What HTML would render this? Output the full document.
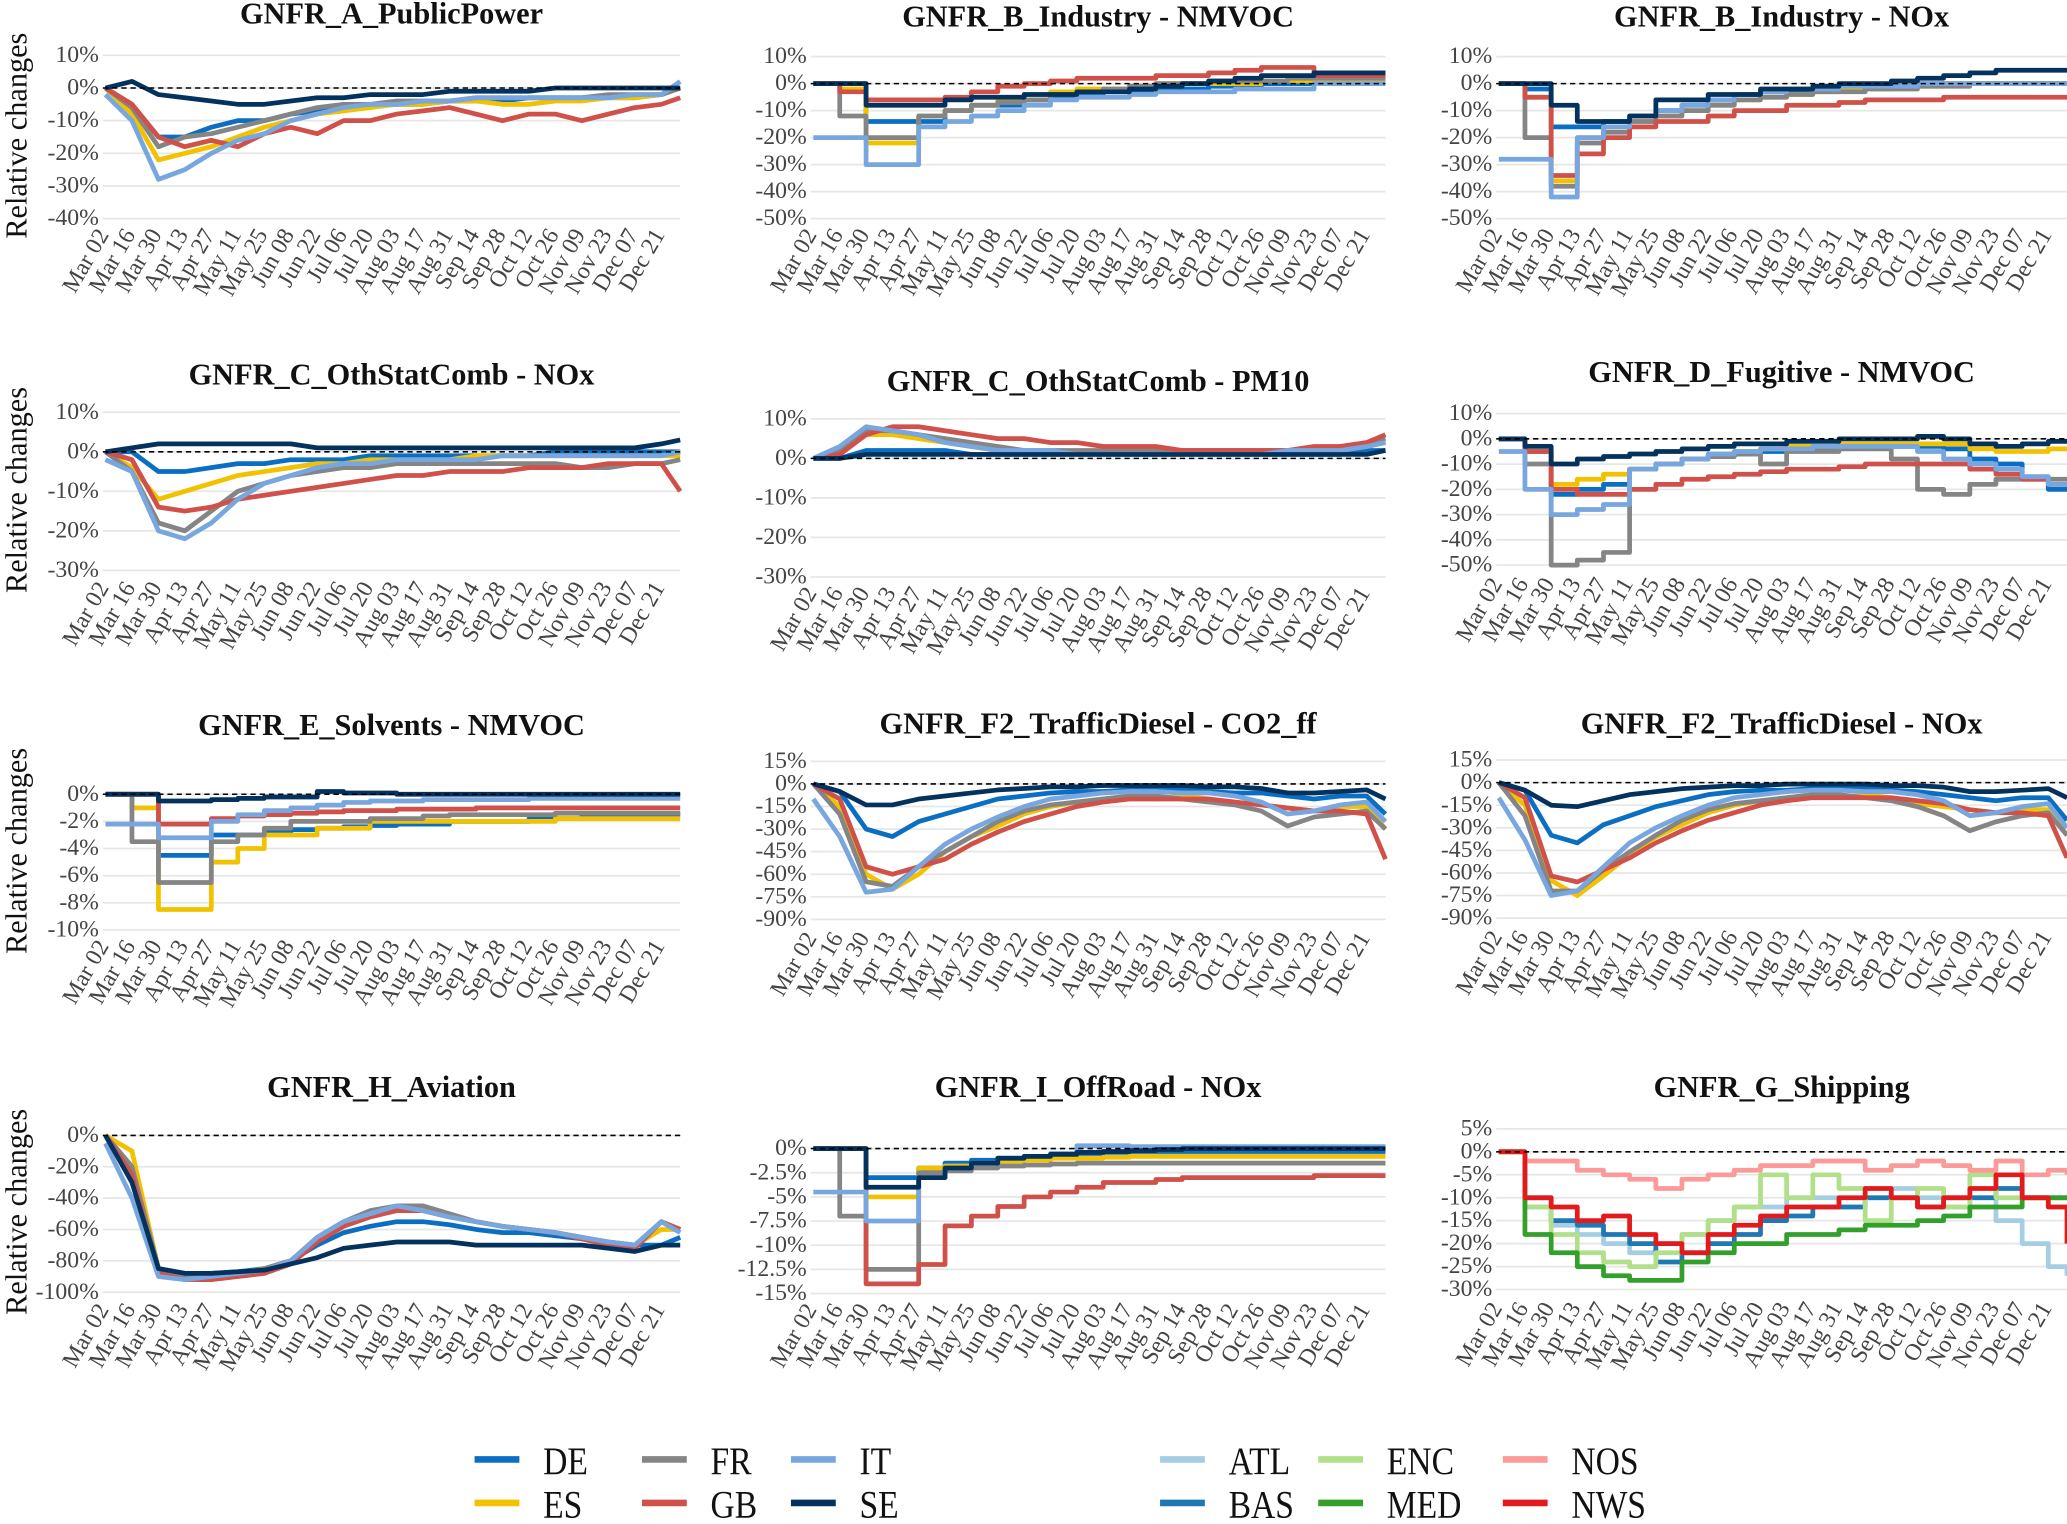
<!DOCTYPE html>
<html><head><meta charset="utf-8"><style>
html,body{margin:0;padding:0;background:#fff}
svg{display:block}
text{font-family:"Liberation Serif","DejaVu Serif",serif}
</style></head><body>
<svg id="chart" xmlns="http://www.w3.org/2000/svg" width="2067" height="1524" viewBox="0 0 1568 1157" preserveAspectRatio="none"></svg>
<script>
const tickLabels=["Mar 02","Mar 16","Mar 30","Apr 13","Apr 27","May 11","May 25","Jun 08","Jun 22","Jul 06","Jul 20","Aug 03","Aug 17","Aug 31","Sep 14","Sep 28","Oct 12","Oct 26","Nov 09","Nov 23","Dec 07","Dec 21"];
const days=[0,14,28,42,56,70,84,98,112,126,140,154,168,182,196,210,224,238,252,266,280,294,304];
const countries=["DE","ES","FR","GB","IT","SE"];
const seas=["ATL","BAS","ENC","MED","NOS","NWS"];
const colors={DE:"#0a6fc2",ES:"#f2c200",FR:"#858585",GB:"#d0504a",IT:"#78a6df",SE:"#04325e",ATL:"#a6cee3",BAS:"#1f78b4",ENC:"#b2df8a",MED:"#33a02c",NOS:"#fb9a99",NWS:"#e31a1c"};

const A_DE=[0,-5,-15,-15,-12,-10,-10,-8,-7,-6,-5,-5,-5,-4,-4,-4,-3,-3,-3,-3,-3,-2,0];
const A_ES=[0,-8,-22,-20,-18,-15,-12,-10,-8,-7,-6,-5,-5,-4,-4,-5,-5,-4,-4,-3,-3,-2,0];
const A_FR=[0,-6,-18,-15,-14,-12,-10,-8,-6,-5,-5,-4,-4,-4,-3,-3,-3,-3,-3,-2,-2,-2,0];
const A_GB=[0,-5,-15,-18,-16,-18,-14,-12,-14,-10,-10,-8,-7,-6,-8,-10,-8,-8,-10,-8,-6,-5,-3];
const A_IT=[-2,-10,-28,-25,-20,-16,-14,-10,-8,-6,-5,-5,-4,-4,-3,-3,-3,-3,-3,-3,-2,-2,2];
const A_SE=[0,2,-2,-3,-4,-5,-5,-4,-3,-3,-2,-2,-2,-1,-1,-1,-1,0,0,0,0,0,0];

const BV_DE=[0,0,-14,-14,-14,-10,-8,-8,-6,-5,-4,-3,-3,-2,-2,-1,-1,0,0,1,1,1,1];
const BV_ES=[0,-2,-22,-22,-12,-10,-8,-6,-4,-3,-2,-2,-1,0,0,0,0,1,1,1,1,1,1];
const BV_FR=[0,-12,-20,-20,-12,-10,-8,-7,-6,-4,-3,-2,-1,0,0,1,1,1,2,2,2,2,2];
const BV_GB=[0,-3,-6,-6,-6,-5,-3,-1,0,1,2,2,2,3,3,4,5,6,6,3,3,3,3];
const BV_IT=[-20,-20,-30,-30,-16,-14,-12,-10,-8,-6,-5,-5,-4,-3,-3,-3,-2,-2,-2,0,0,0,0];
const BV_SE=[0,0,-8,-8,-8,-6,-5,-5,-4,-4,-3,-3,-2,-1,0,1,2,3,3,4,4,4,4];

const BN_DE=[0,-2,-16,-16,-14,-12,-10,-8,-6,-4,-3,-3,-2,-2,-1,-1,0,0,0,0,0,0,0];
const BN_ES=[0,-5,-36,-20,-16,-14,-12,-10,-8,-6,-5,-4,-3,-2,-2,-1,-1,0,0,0,0,0,0];
const BN_FR=[0,-20,-38,-22,-18,-14,-12,-10,-8,-6,-5,-4,-3,-3,-2,-2,-1,-1,0,0,0,0,0];
const BN_GB=[0,-5,-34,-26,-20,-16,-14,-14,-12,-10,-10,-8,-8,-7,-6,-6,-6,-5,-5,-5,-5,-5,-5];
const BN_IT=[-28,-28,-42,-20,-16,-12,-10,-8,-6,-4,-3,-2,-2,-1,-1,-1,0,0,0,0,0,0,0];
const BN_SE=[0,0,-8,-14,-14,-12,-6,-6,-4,-4,-2,-2,-1,0,0,1,2,3,4,5,5,5,5];

const CN_DE=[0,0,-5,-5,-4,-3,-3,-2,-2,-2,-1,-1,-1,-1,-1,-1,-1,0,0,0,0,0,0];
const CN_ES=[0,-4,-12,-10,-8,-6,-5,-4,-3,-3,-2,-2,-2,-2,-1,-1,-1,-1,-1,-1,-1,-1,-1];
const CN_FR=[0,-5,-18,-20,-15,-10,-8,-6,-5,-4,-4,-3,-3,-3,-3,-3,-3,-3,-4,-4,-3,-3,-2];
const CN_GB=[0,-2,-14,-15,-14,-12,-11,-10,-9,-8,-7,-6,-6,-5,-5,-5,-4,-4,-4,-3,-3,-3,-10];
const CN_IT=[-2,-5,-20,-22,-18,-12,-8,-6,-4,-3,-3,-2,-2,-2,-2,-1,-1,-1,-1,-1,-1,-1,0];
const CN_SE=[0,1,2,2,2,2,2,2,1,1,1,1,1,1,1,1,1,1,1,1,1,2,3];

const CP_DE=[0,0,2,2,2,2,1,1,1,1,1,1,1,1,1,1,1,1,1,1,1,2,2];
const CP_ES=[0,2,6,6,5,4,3,2,2,1,1,1,1,1,1,1,1,1,2,2,2,3,4];
const CP_FR=[0,2,7,7,6,5,4,3,2,2,2,2,2,2,2,2,2,2,2,2,3,4,5];
const CP_GB=[0,1,6,8,8,7,6,5,5,4,4,3,3,3,2,2,2,2,2,3,3,4,6];
const CP_IT=[0,3,8,7,6,4,3,2,2,2,1,1,1,1,1,1,1,1,2,2,2,3,4];
const CP_SE=[0,0,1,1,1,1,1,1,1,1,1,1,1,1,1,1,1,1,1,1,1,1,2];

const D_DE=[0,-5,-22,-20,-18,-12,-10,-8,-7,-6,-5,-4,-4,-3,-3,-3,-3,-4,-8,-10,-15,-20,-20];
const D_ES=[0,-5,-18,-16,-14,-12,-10,-8,-6,-5,-4,-3,-3,-2,-2,-2,-2,-2,-4,-5,-5,-4,-4];
const D_FR=[0,-10,-50,-48,-45,-12,-10,-8,-7,-6,-10,-5,-5,-4,-4,-8,-20,-22,-18,-16,-16,-16,-16];
const D_GB=[0,-5,-20,-22,-22,-20,-18,-16,-15,-14,-13,-12,-12,-11,-10,-10,-10,-10,-12,-14,-16,-18,-18];
const D_IT=[-5,-20,-30,-28,-26,-12,-10,-8,-6,-5,-4,-4,-3,-3,-3,-3,-5,-8,-10,-12,-15,-18,-18];
const D_SE=[0,-3,-10,-8,-7,-6,-5,-4,-3,-2,-2,-1,-1,0,0,0,1,0,-2,-3,-2,-1,-1];

const E_DE=[0,0,-4.5,-4.5,-3,-3,-2.8,-2.6,-2.5,-2.4,-2.3,-2.2,-2.2,-2,-2,-2,-1.8,-1.8,-1.6,-1.6,-1.5,-1.5,-1.5];
const E_ES=[0,-1,-8.5,-8.5,-5,-4,-3,-3,-2.5,-2.5,-2,-2,-2,-2,-2,-2,-2,-1.8,-1.8,-1.8,-1.8,-1.8,-1.8];
const E_FR=[0,-3.5,-6.5,-6.5,-3.5,-3,-2.5,-2,-2,-2,-1.8,-1.8,-1.6,-1.5,-1.5,-1.5,-1.5,-1.4,-1.4,-1.4,-1.4,-1.4,-1.4];
const E_GB=[0,0,-2.2,-2.2,-1.8,-1.6,-1.5,-1.4,-1.3,-1.2,-1.2,-1.1,-1.1,-1.1,-1,-1,-1,-1,-1,-1,-1,-1,-1];
const E_IT=[-2.2,-2.2,-3.2,-3.2,-2,-1.5,-1.2,-1,-0.8,-0.6,-0.5,-0.5,-0.4,-0.4,-0.4,-0.4,-0.3,-0.3,-0.3,-0.3,-0.3,-0.3,-0.3];
const E_SE=[0,0,-0.5,-0.5,-0.4,-0.3,-0.2,-0.2,0.2,0.1,0.1,0,0,0,0,0,0,0,0,0,0,0,0];

const FC_DE=[0,-5,-30,-35,-25,-20,-15,-10,-8,-6,-5,-5,-4,-4,-4,-5,-6,-6,-8,-10,-8,-8,-20];
const FC_ES=[0,-15,-60,-70,-60,-45,-35,-28,-20,-15,-12,-10,-8,-10,-8,-10,-12,-14,-16,-18,-15,-15,-30];
const FC_FR=[0,-20,-65,-68,-55,-45,-35,-25,-18,-14,-12,-10,-8,-8,-10,-12,-14,-18,-28,-22,-20,-18,-30];
const FC_GB=[0,-10,-55,-60,-55,-50,-40,-32,-25,-20,-15,-12,-10,-10,-10,-10,-12,-14,-16,-18,-18,-20,-50];
const FC_IT=[-10,-35,-72,-70,-55,-40,-30,-22,-15,-10,-8,-6,-5,-5,-6,-6,-8,-12,-20,-18,-14,-12,-25];
const FC_SE=[0,-5,-14,-14,-10,-8,-6,-4,-3,-2,-2,-1,-1,-1,-1,-2,-2,-3,-6,-6,-5,-4,-10];

const FN_DE=[0,-5,-35,-40,-28,-22,-16,-12,-8,-6,-5,-5,-4,-4,-4,-5,-6,-8,-10,-12,-10,-10,-25];
const FN_ES=[0,-15,-65,-75,-62,-48,-36,-28,-20,-15,-12,-10,-8,-10,-8,-10,-14,-16,-18,-20,-18,-18,-35];
const FN_FR=[0,-22,-72,-72,-58,-46,-35,-25,-18,-14,-12,-10,-8,-8,-10,-12,-16,-22,-32,-26,-22,-20,-35];
const FN_GB=[0,-10,-62,-66,-58,-50,-40,-32,-25,-20,-15,-12,-10,-10,-10,-10,-12,-14,-18,-20,-20,-22,-50];
const FN_IT=[-10,-38,-75,-72,-56,-40,-30,-22,-15,-10,-8,-6,-5,-5,-6,-6,-8,-12,-22,-20,-16,-14,-30];
const FN_SE=[0,-5,-15,-16,-12,-8,-6,-4,-3,-2,-2,-1,-1,-1,-1,-2,-2,-3,-6,-6,-5,-4,-10];

const H_DE=[0,-20,-85,-88,-88,-87,-85,-80,-70,-62,-58,-55,-55,-57,-60,-62,-62,-64,-66,-68,-70,-70,-65];
const H_ES=[0,-10,-85,-90,-90,-88,-85,-80,-65,-55,-50,-45,-48,-52,-55,-58,-60,-62,-65,-68,-70,-60,-60];
const H_FR=[0,-20,-85,-90,-90,-88,-85,-80,-65,-55,-48,-45,-45,-50,-55,-58,-60,-62,-65,-68,-70,-55,-60];
const H_GB=[0,-25,-88,-92,-92,-90,-88,-82,-68,-58,-52,-48,-48,-52,-55,-58,-60,-62,-66,-70,-72,-55,-60];
const H_IT=[-5,-40,-90,-92,-90,-88,-86,-80,-65,-55,-50,-45,-48,-52,-55,-58,-60,-62,-65,-68,-70,-55,-62];
const H_SE=[0,-30,-85,-88,-88,-87,-86,-82,-78,-72,-70,-68,-68,-68,-70,-70,-70,-70,-70,-72,-74,-70,-70];

const I_DE=[0,0,-3,-3,-2,-1.5,-1.2,-1,-0.8,-0.6,-0.5,-0.4,-0.3,-0.3,-0.3,-0.3,-0.3,-0.3,-0.3,-0.3,-0.3,-0.3,-0.3];
const I_ES=[0,0,-5,-5,-2,-1.8,-1.5,-1.3,-1.2,-1,-1,-0.9,-0.8,-0.8,-0.8,-0.8,-0.8,-0.8,-0.8,-0.8,-0.8,-0.8,-0.8];
const I_FR=[0,-7,-12.5,-12.5,-2.5,-2.3,-2,-1.8,-1.7,-1.6,-1.5,-1.5,-1.5,-1.5,-1.5,-1.5,-1.5,-1.5,-1.5,-1.5,-1.5,-1.5,-1.5];
const I_GB=[0,0,-14,-14,-12,-8,-7,-6,-5,-4.5,-4,-3.5,-3.5,-3.2,-3,-3,-3,-3,-3,-2.8,-2.8,-2.8,-2.8];
const I_IT=[-4.5,-4.5,-7.5,-7.5,-3,-2,-1.5,-1,-0.8,-0.5,0.3,0.3,0.2,0.2,0.2,0.2,0.2,0.2,0.2,0.2,0.2,0.2,0.2];
const I_SE=[0,0,-4,-4,-3,-2,-1.5,-1,-0.8,-0.6,-0.4,-0.3,-0.2,-0.1,0,0,0,0,0,0,0,0,0];

const G_ATL=[0,-12,-16,-18,-20,-22,-20,-18,-15,-12,-12,-10,-10,-12,-10,-8,-10,-12,-10,-15,-20,-25,-27];
const G_BAS=[0,-10,-15,-16,-18,-20,-24,-22,-20,-18,-15,-14,-12,-12,-10,-10,-12,-10,-10,-8,-10,-10,-10];
const G_ENC=[0,-12,-18,-22,-24,-25,-22,-18,-15,-12,-5,-10,-5,-8,-15,-10,-8,-12,-5,-10,-10,-12,-12];
const G_MED=[0,-18,-22,-25,-27,-28,-28,-24,-22,-20,-20,-18,-18,-17,-16,-16,-15,-14,-12,-12,-10,-10,-10];
const G_NOS=[0,-2,-2,-4,-5,-6,-8,-6,-5,-4,-3,-3,-2,-2,-4,-3,-2,-3,-4,-2,-5,-4,-5];
const G_NWS=[0,-10,-12,-15,-14,-18,-20,-22,-18,-16,-14,-12,-12,-10,-8,-10,-12,-10,-8,-5,-10,-12,-20];

const ticksA=[10,0,-10,-20,-30,-40];
const ticksB=[10,0,-10,-20,-30,-40,-50];
const ticksC=[10,0,-10,-20,-30];
const ticksE=[0,-2,-4,-6,-8,-10];
const ticksF=[15,0,-15,-30,-45,-60,-75,-90];
const ticksH=[0,-20,-40,-60,-80,-100];
const ticksI=[0,-2.5,-5,-7.5,-10,-12.5,-15];
const ticksG=[5,0,-5,-10,-15,-20,-25,-30];

const cols=[{l:78,x0:80,r:516},{l:615,x0:617,r:1051},{l:1135,x0:1137,r:1568}];
const panels=[
 {name:"public-power",title:"GNFR_A_PublicPower",c:0,ty:18,ticks:ticksA,yt:42,yb:166,xb:172,step:false,keys:countries,data:[A_DE,A_ES,A_FR,A_GB,A_IT,A_SE]},
 {name:"industry-nmvoc",title:"GNFR_B_Industry - NMVOC",c:1,ty:20,ticks:ticksB,yt:43,yb:166,xb:172,step:true,keys:countries,data:[BV_DE,BV_ES,BV_FR,BV_GB,BV_IT,BV_SE]},
 {name:"industry-nox",title:"GNFR_B_Industry - NOx",c:2,ty:20,ticks:ticksB,yt:43,yb:166,xb:172,step:true,keys:countries,data:[BN_DE,BN_ES,BN_FR,BN_GB,BN_IT,BN_SE]},
 {name:"othstatcomb-nox",title:"GNFR_C_OthStatComb - NOx",c:0,ty:292,ticks:ticksC,yt:313,yb:433,xb:440,step:false,keys:countries,data:[CN_DE,CN_ES,CN_FR,CN_GB,CN_IT,CN_SE]},
 {name:"othstatcomb-pm10",title:"GNFR_C_OthStatComb - PM10",c:1,ty:297,ticks:ticksC,yt:318,yb:438,xb:444,step:false,keys:countries,data:[CP_DE,CP_ES,CP_FR,CP_GB,CP_IT,CP_SE]},
 {name:"fugitive-nmvoc",title:"GNFR_D_Fugitive - NMVOC",c:2,ty:290,ticks:ticksB,yt:314,yb:429,xb:437,step:true,keys:countries,data:[D_DE,D_ES,D_FR,D_GB,D_IT,D_SE]},
 {name:"solvents-nmvoc",title:"GNFR_E_Solvents - NMVOC",c:0,ty:558,ticks:ticksE,yt:603,yb:706,xb:712,step:true,keys:countries,data:[E_DE,E_ES,E_FR,E_GB,E_IT,E_SE]},
 {name:"trafficdiesel-co2",title:"GNFR_F2_TrafficDiesel - CO2_ff",c:1,ty:557,ticks:ticksF,yt:578,yb:698,xb:706,step:false,keys:countries,data:[FC_DE,FC_ES,FC_FR,FC_GB,FC_IT,FC_SE]},
 {name:"trafficdiesel-nox",title:"GNFR_F2_TrafficDiesel - NOx",c:2,ty:557,ticks:ticksF,yt:577,yb:697,xb:705,step:false,keys:countries,data:[FN_DE,FN_ES,FN_FR,FN_GB,FN_IT,FN_SE]},
 {name:"aviation",title:"GNFR_H_Aviation",c:0,ty:833,ticks:ticksH,yt:862,yb:981,xb:988,step:false,keys:countries,data:[H_DE,H_ES,H_FR,H_GB,H_IT,H_SE]},
 {name:"offroad-nox",title:"GNFR_I_OffRoad - NOx",c:1,ty:833,ticks:ticksI,yt:872,yb:982,xb:988,step:true,keys:countries,data:[I_DE,I_ES,I_FR,I_GB,I_IT,I_SE]},
 {name:"shipping",title:"GNFR_G_Shipping",c:2,ty:833,ticks:ticksG,yt:857,yb:979,xb:987,step:true,keys:seas,data:[G_ATL,G_BAS,G_ENC,G_MED,G_NOS,G_NWS]}
];
const NS="http://www.w3.org/2000/svg";
const svg=document.getElementById('chart');
function mk(tag,attrs,parent){const e=document.createElementNS(NS,tag);for(const k in attrs)e.setAttribute(k,attrs[k]);(parent||svg).appendChild(e);return e;}
function fmt(v){return v+"%";}
panels.forEach(p=>{
 const col=cols[p.c];
 const g=mk('g',{});
 
 
 const tMax=p.ticks[0],tMin=p.ticks[p.ticks.length-1];
 const y=v=>p.yt+(tMax-v)*(p.yb-p.yt)/(tMax-tMin);
 const x=d=>col.x0+d*(col.r-col.x0)/304;
 const t=mk('text',{x:(col.l+col.r)/2,y:p.ty,'text-anchor':'middle','font-size':23,'font-weight':'bold',fill:'#111'},g);
 t.textContent=p.title;
 
 
 p.ticks.forEach(v=>{
  const gl=mk('line',{x1:col.l,x2:col.r,y1:y(v),y2:y(v),stroke:'#e6e6e6','stroke-width':1.3},g);
  
  
  const lb=mk('text',{x:col.l-3,y:y(v)+5,'text-anchor':'end','font-size':18,fill:'#444'},g);
  lb.textContent=fmt(v);
  
  
 });
 tickLabels.forEach((s,i)=>{
  const tx=x(days[i])+3,ty=p.xb+6;
  const lb=mk('text',{x:tx,y:ty,'text-anchor':'end','font-size':18,fill:'#444',transform:`rotate(-60 ${tx} ${ty})`},g);
  lb.textContent=s;
  
  
 });
 p.data.forEach((arr,si)=>{
  let d="";
  arr.forEach((v,i)=>{
   const px=x(days[i]).toFixed(1),py=y(v).toFixed(1);
   if(i===0)d+=`M${px},${py}`;
   else if(p.step)d+=`H${px}V${py}`;
   else d+=`L${px},${py}`;
  });
  if(p.step)d+=`H${x(304).toFixed(1)}`;
  const path=mk('path',{d:d,fill:'none',stroke:colors[p.keys[si]],'stroke-width':3.6,'stroke-linejoin':'round'},g);
  
  
 });
 const z=mk('line',{x1:col.l,x2:col.r,y1:y(0),y2:y(0),stroke:'#000','stroke-width':1.2,'stroke-dasharray':'4,3'},g);
 
 
});
[103,372,646,920].forEach(cy=>{
 const yt=mk('text',{x:20,y:cy,'text-anchor':'middle','font-size':23,fill:'#111',transform:`rotate(-90 20 ${cy})`});
 yt.textContent="Relative changes";
 
 
});
const legendItems=[["DE",360,1110],["FR",487,1110],["IT",600,1110],["ES",360,1143],["GB",487,1143],["SE",600,1143],
 ["ATL",880,1110],["ENC",1000,1110],["NOS",1140,1110],["BAS",880,1143],["MED",1000,1143],["NWS",1140,1143]];
legendItems.forEach(([k,lx,ly])=>{
 const g=mk('g',{});
 
 
 mk('line',{x1:lx,x2:lx+34,y1:ly-2,y2:ly-2,stroke:colors[k],'stroke-width':5},g);
 const t=mk('text',{x:lx+52,y:ly+9,'font-size':30,fill:'#111',transform:`translate(${(lx+52)*0.15} 0) scale(0.85 1)`},g);
 t.textContent=k;
});
</script>
</body></html>
